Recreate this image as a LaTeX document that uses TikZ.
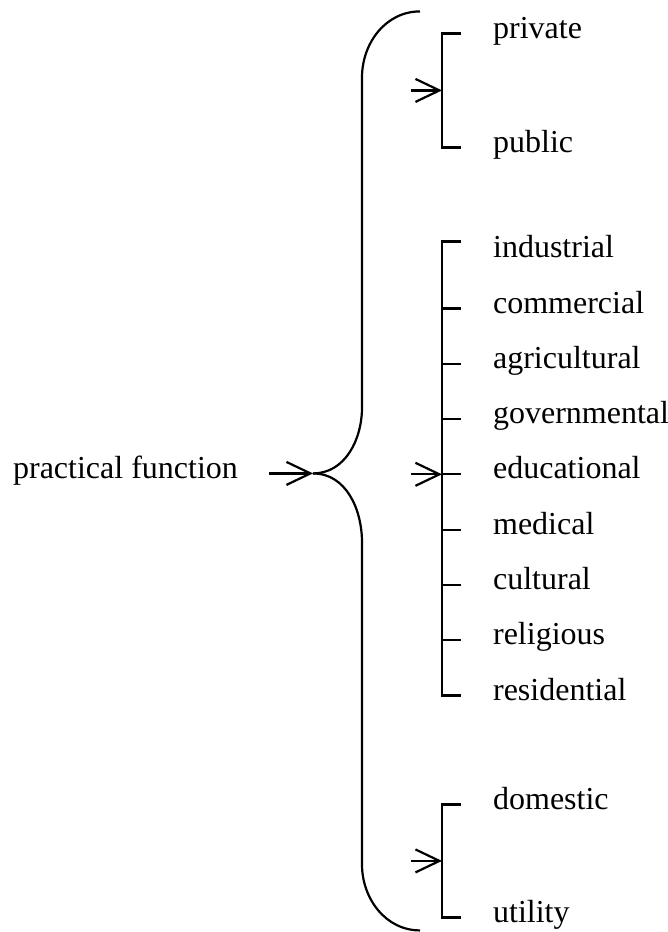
\documentclass[tikz,border=0pt]{standalone}
\usepackage{fontspec}
\setmainfont{Liberation Serif}
\usetikzlibrary{arrows.meta,calc}
\tikzset{barb/.style={-{Straight Barb[length=12pt,width=11.5pt]}}}
\tikzset{item/.style={anchor=base west,inner sep=0pt,font=\fontsize{16}{19}\selectfont}}

\begin{document}
\begin{tikzpicture}[x=0.5pt,y=0.5pt,line width=1.1pt]
\useasboundingbox (0,0) rectangle (668,-932);

% root and big brace
\node[item] (root) at (12,-478) {practical function};
\coordinate (cusp) at (root.mid east -| 313,0);
\draw[barb,shorten <=15pt] (root.mid east) -- (cusp);
\draw (cusp) to[out=0,in=-90] ++(49,66) -- ++(0,330) to[out=90,in=180] ++(58,66);
\draw (cusp) to[out=0,in=90] ++(49,-69) -- ++(0,-322) to[out=-90,in=180] ++(58,-66);

\coordinate (bar) at (442,0);

% ownership
\foreach \name/\y in {private/31,public/145}{
  \node[item] (\name) at (492,-\y-7) {\name};
}
\draw ([xshift=-15.5pt]private.mid west) -- (private.mid west -| bar)
  -- (public.mid west -| bar) -- ([xshift=-15.5pt]public.mid west);
\coordinate (own) at ($(private.mid west -| bar)!0.5!(public.mid west -| bar)$);
\draw[barb] ([xshift=-15.5pt]own) -- (own);

% use
\foreach \name [count=\i from 0] in {industrial,commercial,agricultural,governmental,educational,medical,cultural,religious,residential}{
  \node[item] (\name) at (492,{-250.7-55.3*\i-7}) {\name};
}
\draw ([xshift=-15.5pt,yshift=5.8pt]industrial.mid west) -- ([yshift=5.8pt]industrial.mid west -| bar)
  -- (residential.mid west -| bar) -- ([xshift=-15.5pt]residential.mid west);
\foreach \name in {commercial,agricultural,governmental,educational,medical,cultural,religious}{
  \draw (\name.mid west -| bar) -- ([xshift=-15.5pt]\name.mid west);
}
\draw[barb] ([xshift=-15.5pt]educational.mid west -| bar) -- (educational.mid west -| bar);

% service
\foreach \name/\y in {domestic/802,utility/915}{
  \node[item] (\name) at (492,-\y-7) {\name};
}
\draw ([xshift=-15.5pt]domestic.mid west) -- (domestic.mid west -| bar)
  -- (utility.mid west -| bar) -- ([xshift=-15.5pt]utility.mid west);
\coordinate (serv) at ($(domestic.mid west -| bar)!0.5!(utility.mid west -| bar)$);
\draw[barb] ([xshift=-15.5pt]serv) -- (serv);

\end{tikzpicture}
\end{document}
